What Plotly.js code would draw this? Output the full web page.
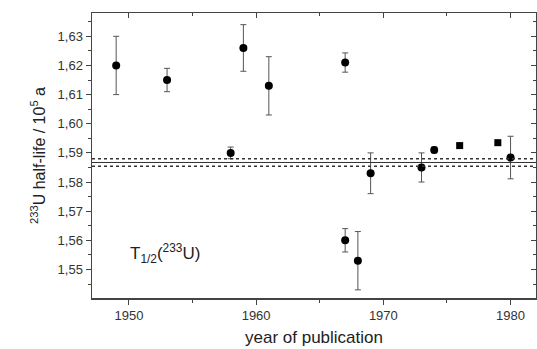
<!DOCTYPE html>
<html>
<head>
<meta charset="utf-8">
<script src="https://cdn.plot.ly/plotly-3.0.1.min.js"></script>
<style>
html,body{margin:0;padding:0;background:#fff;}
#chart{width:537px;height:349px;}
</style>
</head>
<body>
<div id="chart"></div>
<script>
// Circle-marker measurements
var circleYears  = [1949, 1953, 1958, 1959, 1961, 1967, 1969, 1973, 1974, 1980, 1967, 1968];
var circleValues = [1.620, 1.615, 1.590, 1.626, 1.613, 1.621, 1.583, 1.585, 1.591, 1.5884, 1.560, 1.553];
var circleErrors = [0.010, 0.004, 0.002, 0.008, 0.010, 0.0033, 0.007, 0.005, 0.001, 0.0073, 0.004, 0.010];
// Square-marker measurements
var squareYears  = [1976, 1979];
var squareValues = [1.5925, 1.5935];
// Weighted mean and its uncertainty band
var meanValue = 1.5867;
var meanUpper = 1.5880;
var meanLower = 1.5854;
// Axis ticks
var xTicks = [1950, 1960, 1970, 1980];
var yTicks = [1.55, 1.56, 1.57, 1.58, 1.59, 1.60, 1.61, 1.62, 1.63];

var xRange = [1947.1, 1982];
var yRange = [1.5402, 1.638];

var errStyle = {type:'data', symmetric:true, color:'#555', thickness:1, width:3};

var traces = [
  {x:circleYears, y:circleValues, type:'scatter', mode:'markers',
   marker:{symbol:'circle', size:8, color:'#000'},
   error_y:Object.assign({array:circleErrors}, errStyle), showlegend:false},
  {x:squareYears, y:squareValues, type:'scatter', mode:'markers',
   marker:{symbol:'square', size:7, color:'#000'}, showlegend:false},
  {x:[], y:[], xaxis:'x2', yaxis:'y2', type:'scatter', showlegend:false}
];

var tickFont = {family:'Liberation Sans, Arial, sans-serif', size:13, color:'#333'};
var common = {showgrid:false, zeroline:false, showline:true, linecolor:'#444', linewidth:1.5};

function hline(v, dash, w){
  return {type:'line', xref:'paper', x0:0, x1:1, yref:'y', y0:v, y1:v,
          line:{color:'#333', width:w, dash:dash}};
}

var layout = {
  width:537, height:349,
  margin:{l:92, r:1, t:13, b:51},
  paper_bgcolor:'#fff', plot_bgcolor:'#fff',
  separators:',.',
  font:{family:'Liberation Sans, Arial, sans-serif', color:'#333'},
  xaxis:Object.assign({}, common, {
    range:xRange, tickvals:xTicks, ticks:'outside', ticklen:5, tickwidth:1, tickcolor:'#444',
    minor:{dtick:5, tick0:1950, ticks:'outside', ticklen:3, tickcolor:'#444'},
    tickfont:tickFont,
    title:{text:'year of publication', font:{family:'Liberation Sans, Arial, sans-serif', size:17, color:'#222'}, standoff:9}
  }),
  yaxis:Object.assign({}, common, {
    range:yRange, tickvals:yTicks, tickformat:'.2f', ticks:'outside', ticklen:5, tickwidth:1, tickcolor:'#444',
    minor:{dtick:0.005, tick0:1.55, ticks:'outside', ticklen:3, tickcolor:'#444'},
    tickfont:tickFont,
    title:{text:'<sup>233</sup>U half-life / 10<sup>5</sup> a', font:{family:'Liberation Sans, Arial, sans-serif', size:16, color:'#222'}, standoff:8}
  }),
  xaxis2:Object.assign({}, common, {
    overlaying:'x', side:'top', anchor:'y2', range:xRange, tickvals:xTicks, ticks:'inside', ticklen:5, tickcolor:'#444',
    minor:{dtick:5, tick0:1950, ticks:'inside', ticklen:3, tickcolor:'#444'},
    showticklabels:false
  }),
  yaxis2:Object.assign({}, common, {
    overlaying:'y', side:'right', anchor:'x2', range:yRange, tickvals:yTicks, ticks:'inside', ticklen:5, tickcolor:'#444',
    minor:{dtick:0.005, tick0:1.55, ticks:'inside', ticklen:3, tickcolor:'#444'},
    showticklabels:false
  }),
  shapes:[hline(meanUpper,'dot',1.5), hline(meanValue,'solid',1), hline(meanLower,'dot',1.5)],
  annotations:[{
    xref:'x', yref:'y', x:1949.9, y:1.5556, xanchor:'left', yanchor:'middle', showarrow:false,
    text:'T<sub>1/2</sub>(<sup>233</sup>U)',
    font:{family:'Liberation Sans, Arial, sans-serif', size:17, color:'#222'}
  }]
};

Plotly.newPlot('chart', traces, layout, {staticPlot:true, displayModeBar:false});
</script>
</body>
</html>
